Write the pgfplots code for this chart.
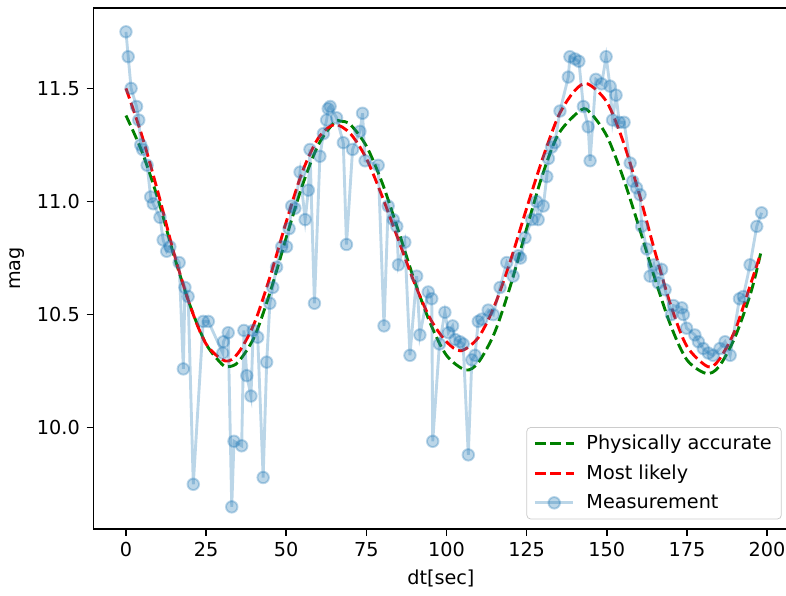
\documentclass[border=0pt]{standalone}
\usepackage{fontspec}
\setmainfont{DejaVu Sans}
\usepackage{pgfplots}
\pgfplotsset{compat=1.18}
\definecolor{c0}{HTML}{1F77B4}
\definecolor{mplgreen}{HTML}{008000}
\definecolor{mplred}{HTML}{FF0000}

\begin{document}
\begin{tikzpicture}[font=\fontsize{10}{12}\selectfont]
\begin{axis}[
  scale only axis, width=361.5pt, height=270.9pt,
  at={(0,0)}, anchor=south west,
  xmin=-10.2, xmax=206.7, ymin=9.552, ymax=11.855,
  xtick={0,25,...,200},
  ytick={10.0,10.5,11.0,11.5},
  yticklabel style={/pgf/number format/.cd, fixed, fixed zerofill, precision=1},
  /pgf/number format/assume math mode=true,
  tick align=outside, tick pos=left,
  major tick length=3.5pt,
  every tick/.style={black, line width=0.8pt},
  axis line style={line width=0.8pt},
  xlabel={dt[sec]}, ylabel={mag},
  every axis x label/.style={at={(axis description cs:0.5,-0.094)}, anchor=center},
  every axis y label/.style={at={(axis description cs:-0.1098,0.5)}, anchor=center, rotate=90},
  legend cell align=left,
  legend style={at={(0.9902,0.0186)}, anchor=south east, draw=black!20,
    rounded corners=2pt, fill=white, fill opacity=0.8, text opacity=1,
    inner xsep=3.5pt, inner ysep=2.5pt, row sep=3.3pt,
    nodes={inner sep=1.5pt},
    /tikz/every odd column/.append style={column sep=4.5pt}},
  legend image code/.code={
    \draw[mark repeat=2, mark phase=2, #1] plot coordinates {(0pt,0pt) (10pt,0pt) (20pt,0pt)};
  },
]
\coordinate (A) at (rel axis cs:0,0);

\addplot[mplgreen, line width=1.5pt, dash pattern=on 5.55pt off 2.4pt, smooth, no marks] coordinates {
  (0,11.38)(5,11.22)(10,11.01)(15,10.76)(20,10.54)(25,10.37)(30,10.28)(32,10.27)
  (35,10.29)(40,10.40)(45,10.60)(50,10.84)(55,11.07)(60,11.25)(65,11.35)(67,11.355)
  (70,11.34)(75,11.245)(80,11.08)(85,10.87)(90,10.65)(95,10.46)(100,10.32)(106,10.255)
  (110,10.29)(115,10.42)(120,10.63)(125,10.88)(130,11.12)(135,11.30)(142,11.405)
  (145,11.39)(150,11.29)(155,11.11)(160,10.89)(165,10.66)(170,10.45)(175,10.30)
  (181,10.24)(185,10.27)(190,10.40)(195,10.60)(198,10.77)};
\addlegendentry{Physically accurate}

\addplot[mplred, line width=1.5pt, dash pattern=on 5.55pt off 2.4pt, smooth, no marks] coordinates {
  (0,11.50)(5,11.29)(10,11.04)(15,10.77)(20,10.54)(25,10.37)(31,10.295)
  (35,10.33)(40,10.46)(45,10.67)(50,10.91)(55,11.13)(60,11.28)(65,11.34)
  (70,11.30)(75,11.19)(80,11.02)(85,10.83)(90,10.64)(95,10.48)(100,10.38)(104.5,10.34)
  (110,10.40)(115,10.54)(120,10.74)(125,10.97)(130,11.19)(135,11.38)(140,11.49)(144,11.52)
  (150,11.44)(155,11.27)(160,11.04)(165,10.78)(170,10.54)(175,10.36)(181.5,10.27)
  (185,10.30)(190,10.43)(195,10.64)(198,10.77)};
\addlegendentry{Most likely}

\addplot[c0, opacity=0.3, line width=1.5pt, mark=*, mark size=3pt,
  mark options={solid, line width=1pt}] coordinates {
  (0,11.75)(0.7,11.64)(1.6,11.50)(3.3,11.42)(4.0,11.36)(4.6,11.25)(5.2,11.23)
  (6.6,11.16)(7.7,11.02)(8.5,10.99)(10.6,10.93)(11.6,10.83)(12.7,10.78)(13.7,10.80)
  (16.6,10.73)(17.9,10.26)(18.4,10.62)(19.4,10.58)(21.0,9.75)(24.1,10.47)(25.7,10.47)
  (30.2,10.33)(30.4,10.38)(31.9,10.42)(33.0,9.65)(33.7,9.94)(36.1,9.92)(36.8,10.43)
  (37.7,10.23)(39.0,10.14)(39.7,10.43)(41.1,10.40)(42.8,9.78)(43.9,10.29)(44.9,10.55)
  (45.8,10.62)(47.0,10.71)(48.6,10.80)(50.1,10.80)(50.9,10.88)(51.7,10.98)(52.7,10.97)
  (54.3,11.13)(55.9,10.92)(56.9,11.05)(57.4,11.23)(58.8,10.55)(60.5,11.20)(61.6,11.30)
  (62.6,11.36)(63.1,11.41)(63.7,11.42)(65.7,11.37)(67.8,11.26)(68.8,10.81)(70.7,11.23)
  (73.0,11.31)(73.8,11.39)(74.6,11.18)(78.7,11.16)(80.5,10.45)(81.8,10.98)(83.4,10.92)
  (84.5,10.89)(85.0,10.72)(87.0,10.82)(88.6,10.32)(90.7,10.67)(91.7,10.41)(94.3,10.60)
  (95.4,10.57)(95.7,9.94)(97.8,10.37)(99.5,10.51)(100.6,10.42)(101.9,10.45)(102.7,10.39)
  (104.2,10.38)(105.2,10.37)(106.8,9.88)(107.9,10.30)(108.9,10.32)(109.9,10.47)
  (111.0,10.48)(113.0,10.52)(114.6,10.50)(116.7,10.62)(118.8,10.73)(120.8,10.67)
  (122.4,10.76)(123.1,10.75)(124.5,10.84)(126.6,10.92)(128.1,11.00)(128.6,10.92)
  (130.2,10.98)(131.3,11.11)(131.8,11.19)(132.8,11.24)(133.8,11.26)(135.4,11.40)
  (138.0,11.55)(138.5,11.64)(140.1,11.63)(141.3,11.62)(142.7,11.42)(144.2,11.33)
  (144.8,11.18)(146.6,11.54)(148.4,11.52)(149.8,11.64)(151.0,11.51)(151.8,11.36)
  (152.9,11.47)(153.9,11.35)(155.4,11.35)(157.3,11.17)(158.1,11.09)(159.3,11.06)
  (160.4,11.03)(160.9,10.89)(162.5,10.79)(163.5,10.67)(164.7,10.72)(166.1,10.64)
  (167.1,10.70)(168.2,10.61)(170.2,10.50)(170.8,10.54)(173.4,10.53)(173.9,10.50)
  (174.9,10.44)(177.5,10.41)(178.6,10.38)(180.1,10.35)(181.7,10.33)(183.2,10.32)
  (185.3,10.35)(186.9,10.38)(188.5,10.32)(191.4,10.57)(192.6,10.58)(194.7,10.72)
  (196.8,10.89)(198.3,10.95)};
\addlegendentry{Measurement}
\end{axis}
\pgfresetboundingbox
\path[use as bounding box] ([shift={(-48.5pt,-34.3pt)}]A) rectangle ([shift={(360.2pt,275.1pt)}]A);
\end{tikzpicture}
\end{document}
